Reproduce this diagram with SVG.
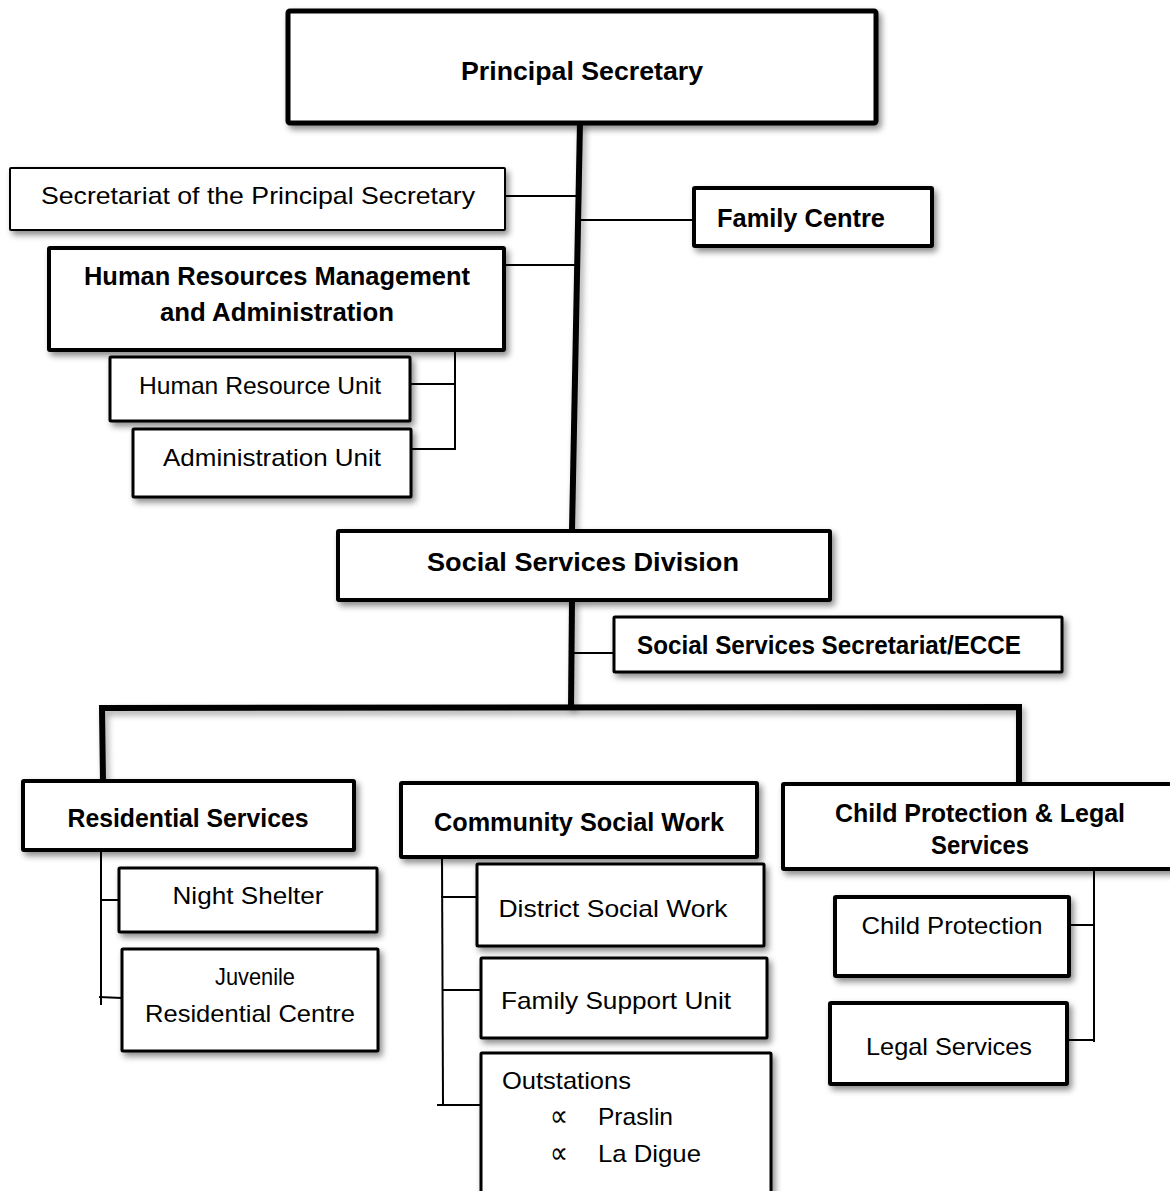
<svg xmlns="http://www.w3.org/2000/svg" width="1170" height="1191" viewBox="0 0 1170 1191">
  <style>
    .box { fill: #ffffff; stroke: #000000; stroke-linejoin: round; filter: url(#shadow); }
    .b5 { stroke-width: 5; }
    .b4 { stroke-width: 4; }
    .b3 { stroke-width: 3; }
    .b2 { stroke-width: 2; }
    text { font-family: "Liberation Sans", "DejaVu Sans", sans-serif; fill: #000000; }
    .bold { font-weight: bold; font-size: 26px; }
    .reg { font-size: 24px; }
    .sym { font-family: "DejaVu Sans", sans-serif; font-size: 30px; }
    .thick { stroke: #000000; stroke-width: 6; fill: none; filter: url(#lineShadow); }
    .thin { stroke: #000000; stroke-width: 2; fill: none; }
  </style>
  <defs>
    <filter id="shadow" x="-10%" y="-20%" width="125%" height="150%">
      <feDropShadow dx="3" dy="4" stdDeviation="3" flood-color="#000000" flood-opacity="0.45"/>
    </filter>
    <filter id="lineShadow" filterUnits="userSpaceOnUse" x="0" y="0" width="1170" height="1191">
      <feDropShadow dx="3" dy="4" stdDeviation="3" flood-color="#000000" flood-opacity="0.35"/>
    </filter>
  </defs>
  <rect width="1170" height="1191" fill="#ffffff"/>

  <!-- connectors -->
  <g id="connectors">
    <!-- main spine -->
    <line class="thick" x1="580" y1="122" x2="572" y2="531"/>
    <line class="thick" x1="572" y1="600" x2="571" y2="708"/>
    <!-- horizontal bar and drops -->
    <polyline class="thick" points="103,782 102,708 1019,707 1019,782"/>
    <!-- side branches off the spine -->
    <line class="thin" x1="505" y1="196" x2="576" y2="196"/>
    <line class="thin" x1="578" y1="220" x2="694" y2="220"/>
    <line class="thin" x1="505" y1="265" x2="575" y2="265"/>
    <line class="thin" x1="573" y1="653" x2="614" y2="653"/>
    <!-- HR management units -->
    <line class="thin" x1="455" y1="350" x2="455" y2="450"/>
    <line class="thin" x1="410" y1="384" x2="456" y2="384"/>
    <line class="thin" x1="411" y1="449" x2="456" y2="449"/>
    <!-- residential services units -->
    <line class="thin" x1="101" y1="850" x2="101" y2="1005"/>
    <line class="thin" x1="101" y1="900" x2="119" y2="900"/>
    <line class="thin" x1="99" y1="997" x2="122" y2="998"/>
    <!-- community social work units -->
    <line class="thin" x1="442" y1="857" x2="443" y2="1105"/>
    <line class="thin" x1="441" y1="897" x2="477" y2="897"/>
    <line class="thin" x1="442" y1="990" x2="481" y2="990"/>
    <line class="thin" x1="437" y1="1105" x2="481" y2="1105"/>
    <!-- child protection & legal units -->
    <line class="thin" x1="1094" y1="869" x2="1094" y2="1042"/>
    <line class="thin" x1="1069" y1="925" x2="1094" y2="925"/>
    <line class="thin" x1="1067" y1="1040" x2="1095" y2="1040"/>
  </g>

  <g id="principal-secretary">
    <rect class="box b5" x="288" y="11" width="588" height="112" rx="2"/>
    <text class="bold" x="582" y="80" text-anchor="middle" textLength="242" lengthAdjust="spacingAndGlyphs">Principal Secretary</text>
  </g>

  <g id="secretariat-ps">
    <rect class="box b2" x="10" y="168" width="495" height="62" rx="1"/>
    <text class="reg" x="258" y="204" text-anchor="middle" textLength="434" lengthAdjust="spacingAndGlyphs">Secretariat of the Principal Secretary</text>
  </g>

  <g id="family-centre">
    <rect class="box b4" x="694" y="188" width="238" height="58" rx="1"/>
    <text class="bold" x="717" y="227" textLength="168" lengthAdjust="spacingAndGlyphs">Family Centre</text>
  </g>

  <g id="hr-management">
    <rect class="box b4" x="49" y="248" width="455" height="102" rx="1"/>
    <text class="bold" x="277" y="285" text-anchor="middle" textLength="386" lengthAdjust="spacingAndGlyphs">Human Resources Management</text>
    <text class="bold" x="277" y="321" text-anchor="middle" textLength="234" lengthAdjust="spacingAndGlyphs">and Administration</text>
  </g>

  <g id="human-resource-unit">
    <rect class="box b3" x="110" y="357" width="300" height="64" rx="1"/>
    <text class="reg" x="260" y="394" text-anchor="middle" textLength="242" lengthAdjust="spacingAndGlyphs">Human Resource Unit</text>
  </g>

  <g id="administration-unit">
    <rect class="box b3" x="133" y="429" width="278" height="68" rx="1"/>
    <text class="reg" x="272" y="466" text-anchor="middle" textLength="218" lengthAdjust="spacingAndGlyphs">Administration Unit</text>
  </g>

  <g id="social-services-division">
    <rect class="box b4" x="338" y="531" width="492" height="69" rx="1"/>
    <text class="bold" x="583" y="571" text-anchor="middle" textLength="312" lengthAdjust="spacingAndGlyphs">Social Services Division</text>
  </g>

  <g id="social-services-secretariat">
    <rect class="box b3" x="614" y="617" width="448" height="55" rx="1"/>
    <text class="bold" x="637" y="654" textLength="384" lengthAdjust="spacingAndGlyphs">Social Services Secretariat/ECCE</text>
  </g>

  <g id="residential-services">
    <rect class="box b4" x="23" y="781" width="331" height="69" rx="1"/>
    <text class="bold" x="188" y="827" text-anchor="middle" textLength="241" lengthAdjust="spacingAndGlyphs">Residential Services</text>
  </g>

  <g id="community-social-work">
    <rect class="box b4" x="401" y="783" width="356" height="74" rx="1"/>
    <text class="bold" x="579" y="831" text-anchor="middle" textLength="290" lengthAdjust="spacingAndGlyphs">Community Social Work</text>
  </g>

  <g id="child-protection-legal">
    <rect class="box b4" x="783" y="784" width="400" height="85" rx="1"/>
    <text class="bold" x="980" y="822" text-anchor="middle" textLength="290" lengthAdjust="spacingAndGlyphs">Child Protection &amp; Legal</text>
    <text class="bold" x="980" y="854" text-anchor="middle" textLength="98" lengthAdjust="spacingAndGlyphs">Services</text>
  </g>

  <g id="night-shelter">
    <rect class="box b3" x="119" y="868" width="258" height="64" rx="1"/>
    <text class="reg" x="248" y="904" text-anchor="middle" textLength="151" lengthAdjust="spacingAndGlyphs">Night Shelter</text>
  </g>

  <g id="juvenile-residential-centre">
    <rect class="box b3" x="122" y="949" width="256" height="102" rx="1"/>
    <text class="reg" x="255" y="985" text-anchor="middle" textLength="80" lengthAdjust="spacingAndGlyphs">Juvenile</text>
    <text class="reg" x="250" y="1022" text-anchor="middle" textLength="210" lengthAdjust="spacingAndGlyphs">Residential Centre</text>
  </g>

  <g id="district-social-work">
    <rect class="box b3" x="477" y="864" width="287" height="82" rx="1"/>
    <text class="reg" x="613" y="917" text-anchor="middle" textLength="229" lengthAdjust="spacingAndGlyphs">District Social Work</text>
  </g>

  <g id="family-support-unit">
    <rect class="box b3" x="481" y="958" width="286" height="80" rx="1"/>
    <text class="reg" x="616" y="1009" text-anchor="middle" textLength="230" lengthAdjust="spacingAndGlyphs">Family Support Unit</text>
  </g>

  <g id="outstations">
    <rect class="box b3" x="481" y="1053" width="290" height="150" rx="1"/>
    <text class="reg" x="502" y="1089" textLength="129" lengthAdjust="spacingAndGlyphs">Outstations</text>
    <text class="sym" x="550" y="1126" textLength="18" lengthAdjust="spacingAndGlyphs">∝</text>
    <text class="reg" x="598" y="1125" textLength="75" lengthAdjust="spacingAndGlyphs">Praslin</text>
    <text class="sym" x="550" y="1163" textLength="18" lengthAdjust="spacingAndGlyphs">∝</text>
    <text class="reg" x="598" y="1162" textLength="103" lengthAdjust="spacingAndGlyphs">La Digue</text>
  </g>

  <g id="child-protection">
    <rect class="box b4" x="835" y="897" width="234" height="79" rx="1"/>
    <text class="reg" x="952" y="934" text-anchor="middle" textLength="181" lengthAdjust="spacingAndGlyphs">Child Protection</text>
  </g>

  <g id="legal-services">
    <rect class="box b4" x="830" y="1003" width="237" height="81" rx="1"/>
    <text class="reg" x="949" y="1055" text-anchor="middle" textLength="166" lengthAdjust="spacingAndGlyphs">Legal Services</text>
  </g>
</svg>
